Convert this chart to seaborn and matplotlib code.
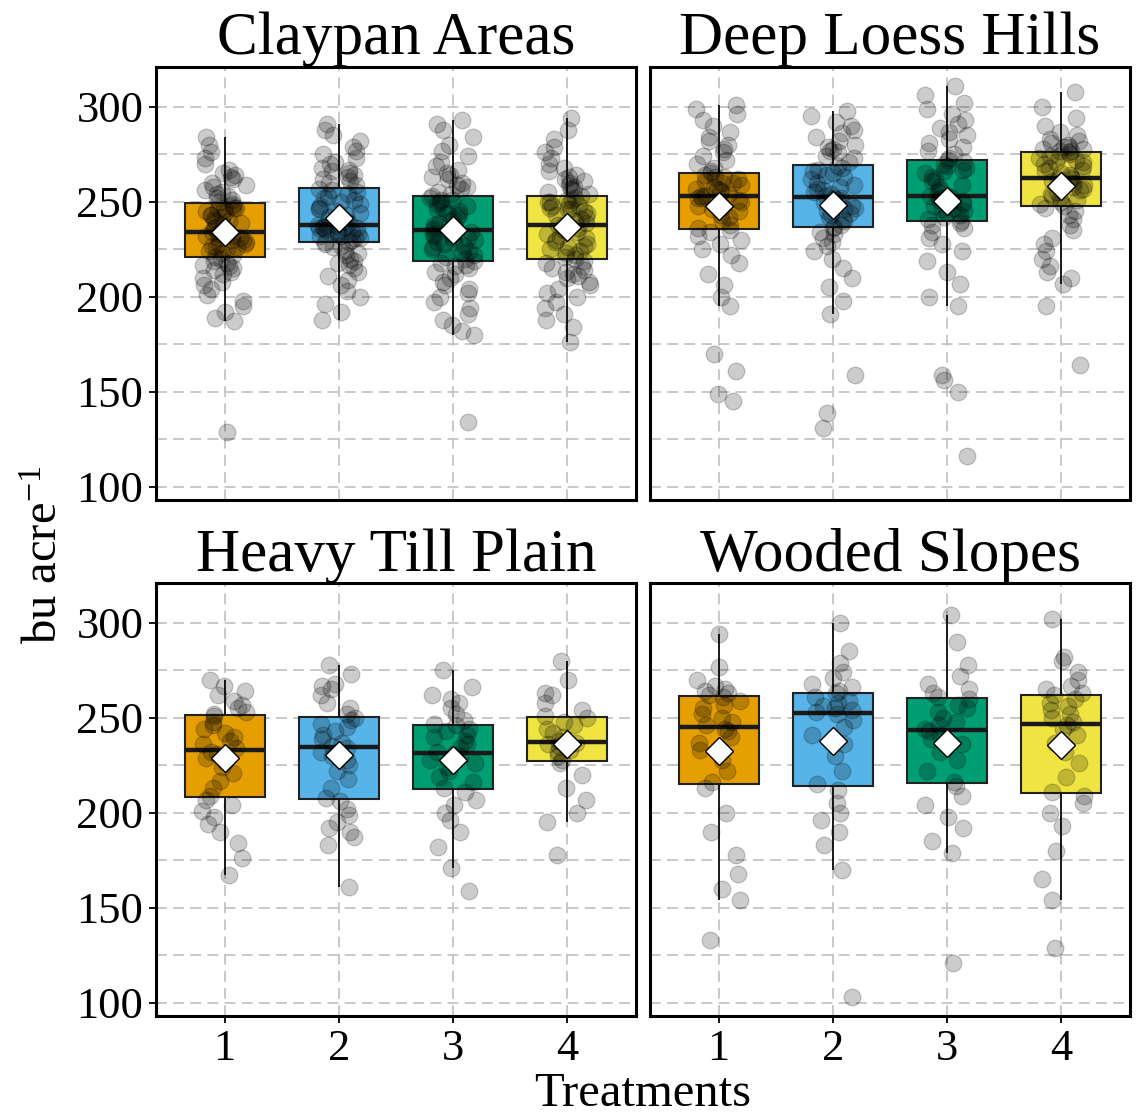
import numpy as np
import pandas as pd
import matplotlib
matplotlib.use("Agg")
import matplotlib.pyplot as plt
import seaborn as sns

regions = ["Claypan Areas", "Deep Loess Hills", "Heavy Till Plain", "Wooded Slopes"]
treatments = ["1", "2", "3", "4"]
palette = ["#E69F00", "#56B4E9", "#009E73", "#F0E442"]
y_ticks = [100, 150, 200, 250, 300]

# ---- Claypan Areas ----
claypan_t1 = [129, 187, 189, 192, 195, 198, 201, 204, 206, 208, 210, 212, 213, 214, 215, 216, 217, 218, 219, 220,
              221, 222, 223, 224, 225, 226, 226, 227, 228, 228, 229, 230, 230, 231, 231, 232, 232, 233, 233, 234,
              234, 235, 236, 237, 238, 239, 240, 240, 241, 242, 243, 243, 244, 245, 246, 246, 247, 247, 248, 249,
              250, 251, 252, 253, 254, 255, 256, 258, 259, 260, 262, 263, 264, 265, 267, 270, 273, 276, 280, 284]
claypan_t2 = [188, 192, 196, 200, 203, 206, 209, 211, 213, 215, 217, 218, 219, 220, 222, 223, 224, 226, 227, 228,
              229, 229, 230, 231, 231, 232, 232, 233, 233, 234, 234, 235, 235, 236, 236, 236, 237, 237, 238, 238,
              238, 239, 240, 241, 242, 243, 244, 245, 246, 247, 248, 249, 250, 251, 252, 253, 254, 255, 256, 257,
              259, 260, 261, 262, 263, 264, 265, 266, 267, 268, 270, 271, 273, 275, 277, 279, 282, 285, 288, 291]
claypan_t3 = [134, 180, 182, 185, 188, 191, 194, 197, 200, 202, 204, 206, 208, 210, 212, 213, 215, 216, 217, 218,
              219, 220, 221, 222, 223, 224, 225, 226, 227, 228, 229, 229, 230, 231, 231, 232, 233, 233, 234, 235,
              235, 236, 237, 238, 239, 240, 241, 242, 243, 244, 245, 246, 247, 248, 249, 250, 251, 251, 252, 253,
              254, 255, 257, 258, 259, 260, 262, 263, 264, 265, 267, 269, 271, 274, 277, 280, 284, 288, 291, 293]
claypan_t4 = [176, 184, 188, 191, 194, 197, 200, 202, 204, 206, 208, 210, 211, 212, 213, 214, 215, 216, 218, 219,
              220, 221, 222, 223, 224, 225, 226, 227, 228, 229, 230, 231, 232, 233, 234, 235, 236, 236, 237, 238,
              238, 239, 240, 241, 242, 243, 244, 245, 246, 246, 247, 248, 248, 249, 250, 250, 251, 251, 252, 253,
              254, 255, 256, 257, 258, 259, 260, 261, 262, 263, 264, 266, 268, 270, 273, 276, 279, 283, 288, 294]

# ---- Deep Loess Hills ----
loess_t1 = [145, 149, 161, 170, 195, 200, 206, 212, 218, 222, 225, 228, 230, 232, 234, 235,
            236, 238, 240, 242, 243, 245, 246, 247, 248, 249, 250, 250, 251, 252, 252, 253,
            253, 254, 255, 256, 257, 257, 258, 259, 260, 260, 261, 262, 263, 263, 264, 265,
            266, 268, 270, 272, 274, 276, 278, 280, 282, 284, 287, 290, 293, 296, 299, 301]
loess_t2 = [131, 139, 159, 191, 198, 205, 210, 215, 220, 224, 227, 229, 231, 233, 234, 236,
            237, 238, 240, 241, 242, 243, 244, 245, 246, 247, 248, 249, 250, 251, 252, 252,
            253, 254, 255, 256, 257, 258, 259, 260, 262, 263, 264, 265, 266, 267, 268, 269,
            271, 273, 274, 276, 277, 278, 279, 280, 282, 284, 286, 288, 290, 292, 295, 298]
loess_t3 = [116, 150, 156, 159, 195, 200, 207, 213, 219, 224, 228, 231, 234, 236, 238, 239,
            240, 241, 242, 243, 244, 245, 246, 247, 248, 249, 250, 250, 251, 252, 252, 253,
            253, 255, 256, 258, 259, 261, 262, 263, 265, 266, 267, 268, 269, 270, 271, 272,
            273, 275, 277, 279, 281, 283, 285, 287, 289, 291, 293, 296, 299, 302, 306, 311]
loess_t4 = [164, 195, 207, 210, 213, 216, 220, 224, 228, 231, 235, 238, 241, 243, 245, 247,
            248, 249, 250, 251, 252, 253, 254, 255, 256, 257, 258, 259, 260, 261, 262, 262,
            263, 264, 265, 266, 267, 268, 269, 270, 271, 271, 272, 273, 274, 274, 275, 276,
            277, 277, 278, 278, 279, 279, 280, 281, 282, 283, 285, 287, 290, 294, 300, 308]

# ---- Heavy Till Plain ----
till_t1 = [167, 176, 184, 190, 194, 198, 201, 204, 207, 209, 213, 217, 221, 224, 227, 229, 231, 232,
           234, 236, 238, 240, 242, 244, 246, 248, 251, 252, 253, 255, 257, 259, 262, 264, 267, 270]
till_t2 = [161, 183, 187, 190, 192, 195, 199, 202, 206, 208, 213, 218, 222, 225, 228, 230, 232, 234,
           235, 237, 239, 241, 243, 245, 247, 249, 250, 252, 255, 258, 262, 265, 267, 268, 273, 278]
till_t3 = [159, 171, 182, 190, 196, 200, 204, 207, 211, 213, 216, 219, 222, 224, 226, 228, 230, 231,
           232, 234, 236, 238, 240, 241, 243, 244, 246, 247, 249, 252, 255, 258, 260, 262, 266, 275]
till_t4 = [178, 195, 200, 207, 213, 220, 226, 228, 230, 232, 233, 235, 236, 237,
           238, 240, 242, 244, 246, 248, 250, 251, 254, 258, 262, 263, 270, 280]

# ---- Wooded Slopes ----
wooded_t1 = [133, 154, 160, 168, 178, 190, 200, 213, 216, 222, 228, 233, 237, 240, 243, 244,
             246, 248, 250, 252, 255, 257, 259, 261, 262, 263, 264, 265, 267, 270, 277, 294]
wooded_t2 = [103, 170, 183, 190, 196, 200, 205, 212, 215, 222, 230, 236, 241, 245, 249, 252,
             253, 254, 255, 256, 258, 259, 261, 263, 264, 266, 268, 271, 274, 279, 285, 300]
wooded_t3 = [121, 179, 185, 192, 198, 204, 209, 214, 216, 222, 228, 232, 236, 239, 241, 243,
             244, 246, 248, 250, 253, 255, 257, 260, 261, 263, 265, 268, 272, 278, 290, 304]
wooded_t4 = [129, 154, 165, 180, 193, 200, 205, 209, 211, 219, 226, 232, 237, 241, 244, 246,
             248, 250, 252, 254, 256, 258, 260, 262, 263, 265, 267, 270, 274, 280, 282, 302]

groups = {
    "Claypan Areas": [claypan_t1, claypan_t2, claypan_t3, claypan_t4],
    "Deep Loess Hills": [loess_t1, loess_t2, loess_t3, loess_t4],
    "Heavy Till Plain": [till_t1, till_t2, till_t3, till_t4],
    "Wooded Slopes": [wooded_t1, wooded_t2, wooded_t3, wooded_t4],
}

rows = []
for reg in regions:
    for trt, vals in zip(treatments, groups[reg]):
        for v in vals:
            rows.append((reg, trt, v))
df = pd.DataFrame(rows, columns=["region", "treatment", "yield"])

sns.set_theme(style="white")
plt.rcParams["font.family"] = ["Liberation Serif", "DejaVu Serif"]
plt.rcParams["mathtext.fontset"] = "custom"
plt.rcParams["mathtext.rm"] = "Liberation Serif"
plt.rcParams["mathtext.it"] = "Liberation Serif:italic"
plt.rcParams["mathtext.default"] = "regular"
for k in ["text.color", "axes.labelcolor", "xtick.color", "ytick.color", "axes.titlecolor"]:
    plt.rcParams[k] = "black"

fig = plt.figure(figsize=(11.39, 11.18), dpi=100)
W, H = 1139, 1118
panel_w = 480
panel_h = 433
lefts = [156, 650]
tops = [67, 583]

np.random.seed(3)
grid_kw = dict(color="#c4c4c4", linestyle=(0, (6, 3.5)), linewidth=1.3)

for i, reg in enumerate(regions):
    r, c = divmod(i, 2)
    ax = fig.add_axes([lefts[c] / W, 1 - (tops[r] + panel_h) / H, panel_w / W, panel_h / H])
    sub = df[df["region"] == reg]

    sns.boxplot(data=sub, x="treatment", y="yield", order=treatments, hue="treatment",
                hue_order=treatments, palette=palette, legend=False, width=0.7,
                showfliers=False, showcaps=False, saturation=1, linewidth=1.5,
                linecolor="#222222",
                medianprops=dict(linewidth=3.2, color="#1a1a1a"),
                whiskerprops=dict(linewidth=1.4, color="#1a1a1a"),
                ax=ax, zorder=2)
    sns.stripplot(data=sub, x="treatment", y="yield", order=treatments, color="black",
                  alpha=0.2, size=12, jitter=0.2, linewidth=0.9, edgecolor="black",
                  ax=ax, zorder=3)
    sns.pointplot(data=sub, x="treatment", y="yield", order=treatments, estimator="mean",
                  errorbar=None, linestyle="none", marker="D", color="white",
                  markersize=14.5, markeredgecolor="black", markeredgewidth=1.0,
                  ax=ax, zorder=4)
    for ln in ax.lines[-1:]:
        ln.set_markerfacecolor("white")
        ln.set_markeredgecolor("black")

    ax.set_xlim(-0.6, 3.6)
    ax.set_ylim(93, 321)
    ax.set_yticks(y_ticks)
    ax.set_yticks([125, 175, 225, 275], minor=True)
    ax.set_axisbelow(True)
    ax.grid(which="major", axis="both", **grid_kw)
    ax.grid(which="minor", axis="y", **grid_kw)
    ax.set_xlabel("")
    ax.set_ylabel("")
    ax.set_title(reg, fontsize=44, pad=9, color="black")
    for sp in ax.spines.values():
        sp.set_visible(True)
        sp.set_color("black")
        sp.set_linewidth(2.2)
    ax.tick_params(which="minor", length=0)
    ax.tick_params(axis="both", which="major", labelsize=32, length=5, width=1.3,
                   color="black", labelcolor="black", direction="out", pad=4)
    if c == 0:
        ax.tick_params(axis="y", left=True, labelleft=True)
    else:
        ax.tick_params(axis="y", left=False, labelleft=False)
    if r == 0:
        ax.tick_params(axis="x", bottom=False, labelbottom=False)
    else:
        ax.tick_params(axis="x", bottom=True, labelbottom=True)

fig.text(643 / W, 1 - 1094 / H, "Treatments", ha="center", va="center", fontsize=35, color="black")
fig.text(45 / W, 1 - 555 / H, "bu acre$^{-1}$", ha="center", va="center", rotation=90,
         fontsize=35, color="black")

fig.savefig("out.png", dpi=100)
